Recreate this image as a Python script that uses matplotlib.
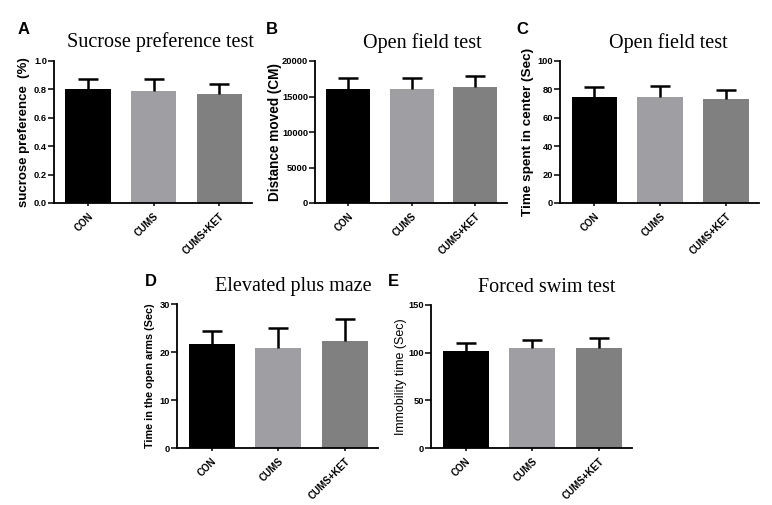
import matplotlib
matplotlib.use("Agg")
import matplotlib.pyplot as plt

# -----------------------------
# DATA
# -----------------------------
groups = ["CON", "CUMS", "CUMS+KET"]
colors = ["#000000", "#9f9fa3", "#808080"]

sucrose_mean = [0.80, 0.79, 0.765]
sucrose_sd = [0.076, 0.08, 0.073]

distance_mean = [16050, 16050, 16400]
distance_sd = [1560, 1550, 1490]

center_mean = [74.7, 74.5, 73.3]
center_sd = [7.3, 8.2, 6.6]

openarm_mean = [21.6, 20.9, 22.2]
openarm_sd = [2.8, 4.1, 4.7]

immob_mean = [102.2, 104.7, 104.7]
immob_sd = [8.0, 9.0, 10.4]

W, H = 772, 505
plt.rcParams["font.family"] = ["Liberation Sans", "DejaVu Sans"]
fig = plt.figure(figsize=(W / 100, H / 100), dpi=100)


def box(l, t, r, b):
    return [l / W, 1 - b / H, (r - l) / W, (b - t) / H]


def panel(rect, means, sds, ymax, step, ylabel, ylab_x, ylab_size, ylab_weight,
          title, title_xy, letter, letter_xy, fmt="{:g}"):
    ax = fig.add_axes(box(*rect))
    x = range(len(groups))
    ax.bar(x, means, width=0.69, color=colors, zorder=2)
    # upper error bars only (GraphPad style)
    _, caps, _ = ax.errorbar(x, means, yerr=[[0] * len(sds), sds], fmt="none",
                             ecolor="black", elinewidth=1.8, capsize=7,
                             capthick=1.8, zorder=3)
    caps[0].set_visible(False)
    ax.set_xlim(-0.52, 2.5)
    ax.set_ylim(0, ymax)
    ticks = [i * step for i in range(int(round(ymax / step)) + 1)]
    ax.set_yticks(ticks)
    ax.set_yticklabels([fmt.format(t) for t in ticks], fontsize=6.7, fontweight="bold")
    ax.set_xticks(list(x))
    ax.set_xticklabels(groups, rotation=45, ha="right", rotation_mode="anchor",
                       fontsize=7, fontweight="bold")
    ax.tick_params(axis="y", direction="out", length=4, width=1.1, pad=1)
    ax.tick_params(axis="x", direction="out", length=2, width=1.1, pad=4)
    for s in ["top", "right"]:
        ax.spines[s].set_visible(False)
    for s in ["left", "bottom"]:
        ax.spines[s].set_linewidth(1.3)
    yc = (rect[1] + rect[3]) / 2
    fig.text(ylab_x / W, 1 - yc / H, ylabel, rotation=90, ha="center", va="center",
             fontsize=ylab_size, fontweight=ylab_weight)
    fig.text(title_xy[0] / W, 1 - title_xy[1] / H, title, ha="center", va="center",
             fontsize=14.5, family="Liberation Serif")
    fig.text(letter_xy[0] / W, 1 - letter_xy[1] / H, letter, ha="left", va="center",
             fontsize=12, fontweight="bold")
    return ax


panel((54, 61, 252, 203), sucrose_mean, sucrose_sd, 1.0, 0.2,
      "sucrose preference  (%)", 24, 9.5, "bold",
      "Sucrose preference test", (160, 42), "A", (18, 29), fmt="{:.1f}")
panel((315, 61, 507, 203), distance_mean, distance_sd, 20000, 5000,
      "Distance moved (CM)", 275, 9.8, "bold",
      "Open field test", (422, 43), "B", (266, 29))
panel((560, 61, 759, 203), center_mean, center_sd, 100, 20,
      "Time spent in center (Sec)", 528, 9.7, "bold",
      "Open field test", (668, 43), "C", (516, 29))
panel((177, 304, 378, 448), openarm_mean, openarm_sd, 30, 10,
      "Time in the open arms (Sec)", 150, 7.8, "bold",
      "Elevated plus maze", (293, 287), "D", (145, 282))
panel((431, 305, 632, 448), immob_mean, immob_sd, 150, 50,
      "Immobility time (Sec)", 401, 9, "normal",
      "Forced swim test", (547, 287), "E", (388, 282))

fig.savefig("out.png", dpi=100, facecolor="white")
